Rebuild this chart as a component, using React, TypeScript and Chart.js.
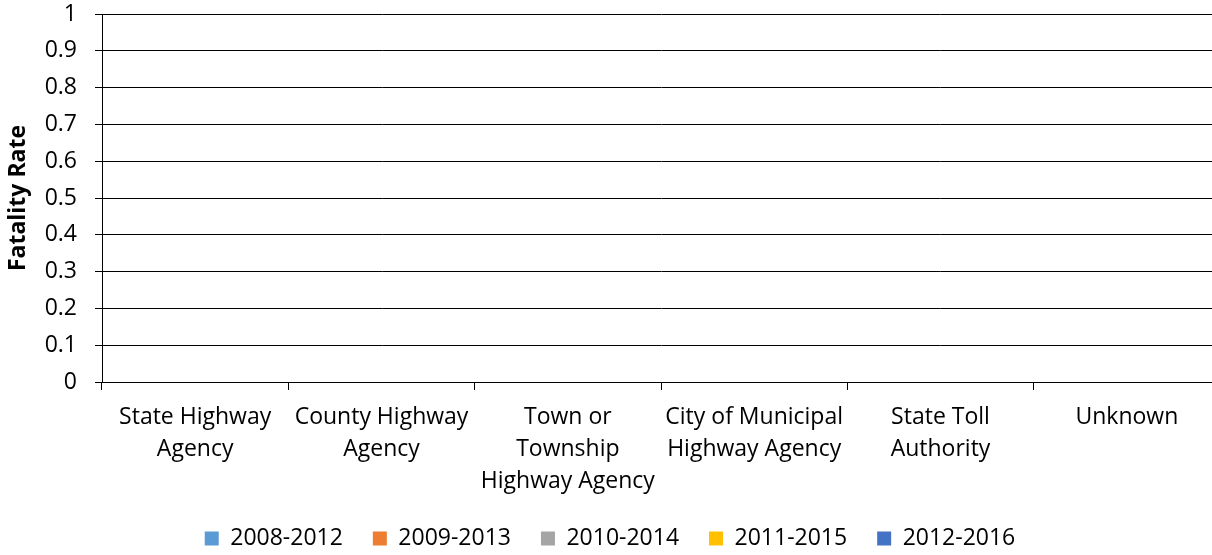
import React, { useEffect, useRef } from "react";
import { Chart, registerables } from "chart.js";

Chart.register(...registerables);

const categories: string[][] = [
  ["State Highway", "Agency"],
  ["County Highway", "Agency"],
  ["Town or", "Township", "Highway Agency"],
  ["City of Municipal", "Highway Agency"],
  ["State Toll", "Authority"],
  ["Unknown"],
];

const seriesNames = ["2008-2012", "2009-2013", "2010-2014", "2011-2015", "2012-2016"];
const seriesColors = ["#5B9BD5", "#ED7D31", "#A5A5A5", "#FFC000", "#4472C4"];

const values2008_2012 = [0, 0, 0, 0, 0, 0];
const values2009_2013 = [0, 0, 0, 0, 0, 0];
const values2010_2014 = [0, 0, 0, 0, 0, 0];
const values2011_2015 = [0, 0, 0, 0, 0, 0];
const values2012_2016 = [0, 0, 0, 0, 0, 0];

const seriesValues = [values2008_2012, values2009_2013, values2010_2014, values2011_2015, values2012_2016];

const yMin = 0;
const yMax = 1;
const yStep = 0.1;
const yTitle = "Fatality Rate";

const FONT = '"Open Sans", sans-serif';

export default function App() {
  const ref = useRef<HTMLCanvasElement | null>(null);

  useEffect(() => {
    if (!ref.current) return;
    const chart = new Chart(ref.current, {
      type: "bar",
      data: {
        labels: categories,
        datasets: seriesNames.map((name, i) => ({
          label: name,
          data: seriesValues[i],
          backgroundColor: seriesColors[i],
          borderWidth: 0,
        })),
      },
      options: {
        responsive: false,
        animation: false,
        layout: { padding: { left: 0, right: 0, top: 14, bottom: 0 } },
        plugins: {
          tooltip: { enabled: false },
          legend: {
            position: "bottom",
            labels: {
              boxWidth: 14,
              boxHeight: 14,
              padding: 30,
              color: "#000",
              font: { family: FONT, size: 23 },
            },
          },
        },
        scales: {
          x: {
            offset: true,
            grid: {
              display: true,
              offset: true,
              drawOnChartArea: false,
              drawTicks: true,
              tickLength: 8,
              color: "#000",
              lineWidth: 1,
            },
            border: { display: true, color: "#000", width: 1 },
            ticks: {
              color: "#000",
              padding: 11,
              maxRotation: 0,
              autoSkip: false,
              font: { family: FONT, size: 23, lineHeight: 1.4 },
            },
            afterFit: (scale: any) => {
              scale.height = 115;
            },
          },
          y: {
            min: yMin,
            max: yMax,
            ticks: {
              stepSize: yStep,
              color: "#000",
              padding: 18,
              font: { family: FONT, size: 23, lineHeight: 1.0 },
              callback: (v: any) => String(Math.round(Number(v) * 10) / 10),
            },
            grid: {
              color: "#000",
              lineWidth: 1,
              drawTicks: true,
              tickLength: 7,
            },
            border: { display: true, color: "#000", width: 1 },
            title: {
              display: true,
              text: yTitle,
              color: "#000",
              padding: { top: 5, bottom: 0 },
              font: { family: FONT, size: 23, weight: "bold" },
            },
            afterFit: (scale: any) => {
              scale.width = 102;
              scale.paddingTop = 0;
              scale.paddingBottom = 0;
            },
          },
        },
      },
    });
    return () => chart.destroy();
  }, []);

  return (
    <div
      style={{
        position: "fixed",
        left: 0,
        top: 0,
        width: 1212,
        height: 555,
        overflow: "hidden",
        background: "#fff",
      }}
    >
      <canvas ref={ref} width={1220} height={560} style={{ display: "block" }} />
    </div>
  );
}
